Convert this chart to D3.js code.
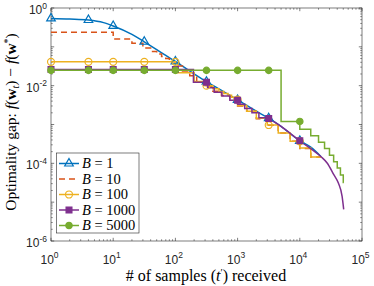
<!DOCTYPE html>
<html>
<head>
<meta charset="utf-8">
<script src="https://cdn.jsdelivr.net/npm/d3@7"></script>
<style>
  body { margin: 0; background: #fff; }
  svg { display: block; }
</style>
</head>
<body>
<div id="chart"></div>
<script>
// Chart size and plot box
var svgWidth = 374;
var svgHeight = 286;
var plot = { left: 51, right: 362, top: 8, bottom: 241 };

// ---- data ----
var batchSizes = [1, 10, 100, 1000, 5000];
var xTickValues = [1, 10, 100, 1e3, 1e4, 1e5];
var yTickValues = [1e-6, 1e-4, 1e-2, 1];
var markerT = [1, 4, 10, 31.6, 100, 316, 1000, 3162, 10000];

// B = 1 : smooth curve
var b1T = [1, 2, 4, 7, 10, 20, 31.6, 50, 70, 100, 200, 316, 500, 1000, 2000, 3162, 5000, 10000, 15000, 22000];
var b1F = [0.54, 0.52, 0.49, 0.42, 0.345, 0.21, 0.135, 0.085, 0.06, 0.042, 0.02, 0.0126, 0.0083, 0.0043, 0.0022, 0.00145, 0.00089, 0.00038, 0.00026, 0.000148];

// B = 10 : staircase (breakpoints, value on each step)
var b10T = [1, 10, 20, 30, 40, 50, 60, 70, 80, 90, 100, 130, 170, 220, 300, 400, 550, 750, 1000, 1400, 2000, 3000, 4500, 7000, 10000, 15000, 22000];
var b10F = [0.237, 0.158, 0.123, 0.093, 0.076, 0.065, 0.056, 0.05, 0.045, 0.041, 0.032, 0.024, 0.018, 0.0125, 0.0095, 0.0072, 0.0056, 0.0042, 0.003, 0.0022, 0.0014, 0.00095, 0.0006, 0.00037, 0.00024, 0.000145];

// B = 100 : staircase
var b100T = [1, 100, 200, 300, 400, 500, 600, 700, 800, 900, 1000, 1400, 2000, 3000, 4500, 7000, 10000, 15000, 22000];
var b100F = [0.041, 0.0216, 0.0128, 0.01, 0.0083, 0.0071, 0.0063, 0.0057, 0.005, 0.0044, 0.0031, 0.0022, 0.00145, 0.00097, 0.0006, 0.00037, 0.00025, 0.000145];

// B = 1000 : staircase, then smooth tail
var b1000T = [1, 195, 330, 420, 560, 750, 1000, 1300, 1700, 2200, 3000];
var b1000F = [0.026, 0.0123, 0.0089, 0.0068, 0.0054, 0.0042, 0.0033, 0.0026, 0.002, 0.0015];
var b1000TailT = [3000, 5000, 10000, 15000, 22000, 27500, 35000, 41700, 47900, 50800];
var b1000TailF = [0.0015, 0.00089, 0.00038, 0.00024, 0.000148, 0.000102, 5.2e-5, 3.1e-5, 1.41e-5, 6.5e-6];

// B = 5000 : staircase
var b5000T = [1, 5000, 10000, 15000, 20000, 25000, 30000, 35000, 40000, 45000, 50000, 51000];
var b5000F = [0.0248, 0.0012, 7.6e-4, 5.1e-4, 3.5e-4, 2.4e-4, 1.62e-4, 1.1e-4, 7.6e-5, 5.0e-5, 3.2e-5];

var colors = ["#0072BD", "#D95319", "#EDB120", "#7E2F8E", "#77AC30"];

// ---- scales ----
var x = d3.scaleLog().domain([1, 1e5]).range([plot.left, plot.right]);
var y = d3.scaleLog().domain([1e-6, 1]).range([plot.bottom, plot.top]);

var svg = d3.select("#chart").append("svg")
  .attr("width", svgWidth)
  .attr("height", svgHeight);

// helpers to turn step data into points
function stepPoints(ts, fs) {
  var pts = fs.map((f, i) => [ts[i], f]);
  pts.push([ts[ts.length - 1], fs[fs.length - 1]]);
  return pts;
}
function stepValue(ts, fs, t) {
  for (var i = 0; i < fs.length; i++) {
    if (t <= ts[i + 1]) return fs[i];
  }
  return fs[fs.length - 1];
}
function smoothValue(ts, fs, t) {
  for (var i = 0; i < ts.length - 1; i++) {
    if (t >= ts[i] && t <= ts[i + 1]) {
      var a = (Math.log(t) - Math.log(ts[i])) / (Math.log(ts[i + 1]) - Math.log(ts[i]));
      return Math.exp(Math.log(fs[i]) + a * (Math.log(fs[i + 1]) - Math.log(fs[i])));
    }
  }
  return fs[fs.length - 1];
}

var stepLine = d3.line().x(d => x(d[0])).y(d => y(d[1])).curve(d3.curveStepAfter);
var smoothLine = d3.line().x(d => x(d[0])).y(d => y(d[1])).curve(d3.curveMonotoneX);

// ---- axes box, ticks ----
var axisColor = "#262626";
var axes = svg.append("g");

var minorX = [];
for (var e = 0; e < 5; e++) for (var m = 2; m <= 9; m++) minorX.push(m * Math.pow(10, e));
var minorY = [];
for (var e2 = -6; e2 < 0; e2++) for (var m2 = 2; m2 <= 9; m2++) minorY.push(m2 * Math.pow(10, e2));
var majorY = d3.range(-6, 1).map(p => Math.pow(10, p));

// bottom/top ticks
[[plot.bottom, -1], [plot.top, 1]].forEach(function(s) {
  axes.selectAll(null).data(xTickValues).enter().append("line")
    .attr("x1", d => x(d)).attr("x2", d => x(d))
    .attr("y1", s[0]).attr("y2", s[0] + s[1] * 3.2)
    .attr("stroke", axisColor).attr("stroke-width", 0.6);
  axes.selectAll(null).data(minorX).enter().append("line")
    .attr("x1", d => x(d)).attr("x2", d => x(d))
    .attr("y1", s[0]).attr("y2", s[0] + s[1] * 1.8)
    .attr("stroke", axisColor).attr("stroke-width", 0.5);
});
// left/right ticks
[[plot.left, 1], [plot.right, -1]].forEach(function(s) {
  axes.selectAll(null).data(majorY).enter().append("line")
    .attr("y1", d => y(d)).attr("y2", d => y(d))
    .attr("x1", s[0]).attr("x2", s[0] + s[1] * 3.2)
    .attr("stroke", axisColor).attr("stroke-width", 0.6);
  axes.selectAll(null).data(minorY).enter().append("line")
    .attr("y1", d => y(d)).attr("y2", d => y(d))
    .attr("x1", s[0]).attr("x2", s[0] + s[1] * 1.8)
    .attr("stroke", axisColor).attr("stroke-width", 0.5);
});

axes.append("rect")
  .attr("x", plot.left).attr("y", plot.top)
  .attr("width", plot.right - plot.left).attr("height", plot.bottom - plot.top)
  .attr("fill", "none").attr("stroke", axisColor).attr("stroke-width", 0.6);

// tick labels: 10^k
var xLab = axes.selectAll(".xlab").data(xTickValues).enter().append("text")
  .attr("class", "xlab")
  .attr("x", d => x(d) - 1.5).attr("y", 264)
  .attr("text-anchor", "middle")
  .attr("font-family", "Liberation Sans, Arial, sans-serif")
  .attr("font-size", 12).attr("fill", "#262626");
xLab.append("tspan").text("10");
xLab.append("tspan").attr("dy", -6).attr("font-size", 8.5).text(d => Math.round(Math.log10(d)));

var yLab = axes.selectAll(".ylab").data(yTickValues).enter().append("text")
  .attr("class", "ylab")
  .attr("x", 47).attr("y", d => y(d) + 6)
  .attr("text-anchor", "end")
  .attr("font-family", "Liberation Sans, Arial, sans-serif")
  .attr("font-size", 12).attr("fill", "#262626");
yLab.append("tspan").text("10");
yLab.append("tspan").attr("dy", -5.5).attr("font-size", 8.5)
  .text(d => { var p = Math.round(Math.log10(d)); return p < 0 ? "-" + (-p) : p; });

// ---- series ----
var lines = svg.append("g");

// B = 1
lines.append("path").datum(b1T.map((t, i) => [t, b1F[i]]))
  .attr("d", smoothLine).attr("fill", "none")
  .attr("stroke", colors[0]).attr("stroke-width", 1.5);
// B = 10
lines.append("path").datum(stepPoints(b10T, b10F))
  .attr("d", stepLine).attr("fill", "none")
  .attr("stroke", colors[1]).attr("stroke-width", 1.5)
  .attr("stroke-dasharray", "6,4");
// B = 100
lines.append("path").datum(stepPoints(b100T, b100F))
  .attr("d", stepLine).attr("fill", "none")
  .attr("stroke", colors[2]).attr("stroke-width", 1.5);
// B = 1000
lines.append("path").datum(stepPoints(b1000T, b1000F))
  .attr("d", stepLine).attr("fill", "none")
  .attr("stroke", colors[3]).attr("stroke-width", 1.5);
lines.append("path").datum(b1000TailT.map((t, i) => [t, b1000TailF[i]]))
  .attr("d", smoothLine).attr("fill", "none")
  .attr("stroke", colors[3]).attr("stroke-width", 1.5);
// B = 5000
lines.append("path").datum(stepPoints(b5000T, b5000F))
  .attr("d", stepLine).attr("fill", "none")
  .attr("stroke", colors[4]).attr("stroke-width", 1.5);

// ---- markers ----
var tri = d3.symbol().type(d3.symbolTriangle).size(32);
var circ = d3.symbol().type(d3.symbolCircle).size(38);
var sq = d3.symbol().type(d3.symbolSquare).size(34);
var circSmall = d3.symbol().type(d3.symbolCircle).size(32);

function addMarkers(vals, sym, color, filled) {
  lines.selectAll(null).data(markerT).enter().append("path")
    .attr("d", sym)
    .attr("transform", (t, i) => `translate(${x(t)},${y(vals[i])})`)
    .attr("fill", filled ? color : "none")
    .attr("stroke", color).attr("stroke-width", 1.2);
}
addMarkers(markerT.map(t => smoothValue(b1T, b1F, t)), tri, colors[0], false);
addMarkers(markerT.map(t => stepValue(b100T, b100F, t)), circ, colors[2], false);
addMarkers(markerT.map(t => t <= 3000 ? stepValue(b1000T, b1000F, t) : smoothValue(b1000TailT, b1000TailF, t)), sq, colors[3], true);
addMarkers(markerT.map(t => stepValue(b5000T, b5000F, t)), circSmall, colors[4], true);

// ---- legend ----
var legend = svg.append("g");
legend.append("rect")
  .attr("x", 56.5).attr("y", 153).attr("width", 82.5).attr("height", 80)
  .attr("fill", "#fff").attr("stroke", axisColor).attr("stroke-width", 0.6);
var legendSyms = [tri, null, circ, sq, circSmall];
var legendFilled = [false, false, false, true, true];
batchSizes.forEach(function(b, i) {
  var ly = 163.5 + i * 15.5;
  legend.append("line")
    .attr("x1", 59).attr("x2", 79).attr("y1", ly).attr("y2", ly)
    .attr("stroke", colors[i]).attr("stroke-width", 1.5)
    .attr("stroke-dasharray", i === 1 ? "6,4" : null);
  if (legendSyms[i]) {
    legend.append("path").attr("d", legendSyms[i])
      .attr("transform", `translate(69,${ly})`)
      .attr("fill", legendFilled[i] ? colors[i] : "none")
      .attr("stroke", colors[i]).attr("stroke-width", 1.2);
  }
  var t = legend.append("text")
    .attr("x", 82).attr("y", ly + 4.5)
    .attr("font-family", "Liberation Serif, Times New Roman, serif")
    .attr("font-size", 14.5).attr("fill", "#000");
  t.append("tspan").attr("font-style", "italic").text("B");
  t.append("tspan").text(" = " + b);
});

// ---- axis titles ----
var xt = svg.append("text")
  .attr("x", 206).attr("y", 281)
  .attr("text-anchor", "middle")
  .attr("font-family", "Liberation Serif, Times New Roman, serif")
  .attr("font-size", 16).attr("fill", "#000");
xt.append("tspan").text("# of samples (");
xt.append("tspan").attr("font-style", "italic").text("t");
xt.append("tspan").attr("dy", -5).attr("font-size", 10).text("′");
xt.append("tspan").attr("dy", 5).text(") received");

var yt = svg.append("text")
  .attr("transform", "translate(16,122) rotate(-90)")
  .attr("text-anchor", "middle")
  .attr("font-family", "Liberation Serif, Times New Roman, serif")
  .attr("font-size", 15.5).attr("fill", "#000");
yt.append("tspan").text("Optimality gap: ");
yt.append("tspan").attr("font-style", "italic").text("f");
yt.append("tspan").text("(");
yt.append("tspan").attr("font-weight", "bold").text("w");
yt.append("tspan").attr("font-style", "italic").attr("font-size", 10).attr("dy", 3).text("t");
yt.append("tspan").attr("dy", -3).text(") − ");
yt.append("tspan").attr("font-style", "italic").text("f");
yt.append("tspan").text("(");
yt.append("tspan").attr("font-weight", "bold").text("w");
yt.append("tspan").attr("font-size", 10).attr("dy", -5).text("*");
yt.append("tspan").attr("dy", 5).text(")");
</script>
</body>
</html>
